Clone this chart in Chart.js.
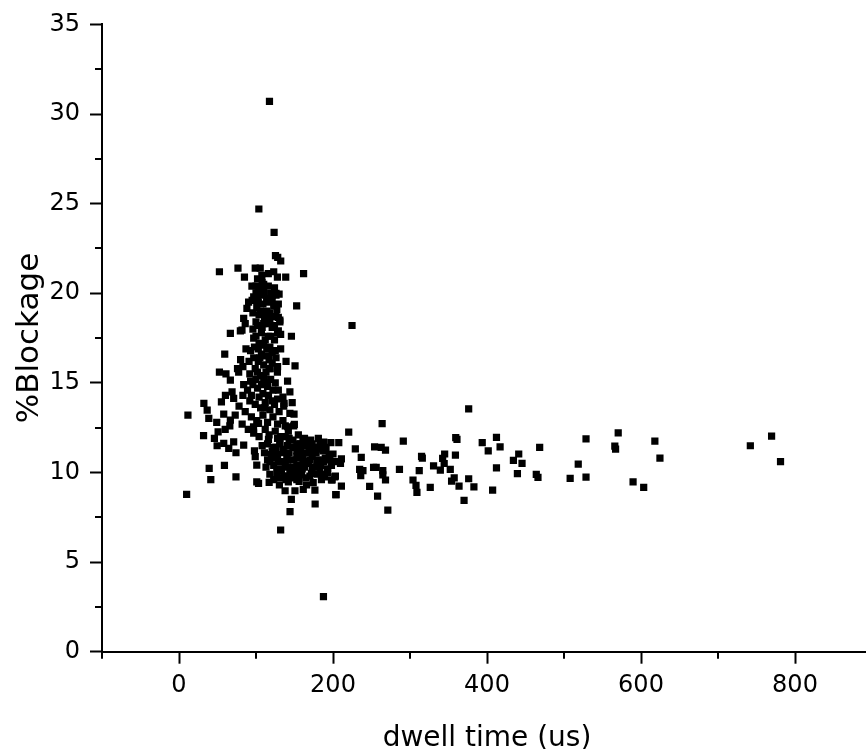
<!DOCTYPE html>
<html>
<head>
<meta charset="utf-8">
<script src="https://cdn.jsdelivr.net/npm/chart.js@4.4.1/dist/chart.umd.min.js"></script>
<style>
  html, body { margin: 0; padding: 0; background: #fff; overflow: hidden; }
  #wrap { width: 880px; height: 749px; }
</style>
</head>
<body>
<div id="wrap"><canvas id="c" width="880" height="749"></canvas></div>
<script>
// ---- Data ----
const dwellTime = [
  117.5,103.7,123.5,125.3,128.2,132.1,52.5,76.6,99,105.5,161.8,85,107.6,127.8,138.6,110,116,124,126,94.7,
  100,103,130,152.8,90.4,95,102,108,114,121,117.5,129,131,88.2,84,86,146,132,66.7,79.7,
  81.8,59.4,150.7,52.5,61,77.5,83,127.8,118.5,66.7,60.3,68.9,71,32.3,36.6,38.7,55.1,58.1,66.7,11.6,
  149.4,136.5,116.2,149.8,141.2,103.3,96.8,116.2,31.9,50.8,39.2,41.3,9.9,59,74,49.5,58.1,64.6,74,84,
  71,99,101,101,224.7,187.6,132,144.2,176.8,145.9,204,210.9,137.8,150.6,161.4,176.5,103.3,117.1,130.4,142,
  165.7,174.3,189.4,202.3,198,159.2,172.1,376.2,263.8,220.4,197.2,207.5,291.3,200,210.9,195.9,202.4,209.7,229,236.7,
  254,262.6,268.2,359.4,361,393.8,412.3,417,401.6,468.4,528.6,570.4,566,567,618,624.6,742,769.6,781.2,518.5,
  508,528.6,589.7,603.5,464,466.2,439.5,434.3,441.2,445.5,412.3,407.3,383,376.2,370.2,363.7,359,357.4,354,352.3,
  345,342.4,339.4,330.6,344.4,326.3,315,316,312,303.9,307.8,309,286.3,271.2,257.9,247.6,268.2,264.7,264.7,252.7,
  256.1,234.6,238.9,236,198.9,203.1,203.6
];
const blockage = [
  30.7,24.7,23.4,22.1,22.0,21.8,21.2,21.4,21.4,21.4,21.1,20.9,21.0,20.9,20.9,20.5,20.4,20.3,20.0,20.4,
  20.4,20.2,19.95,19.3,19.5,19.6,19.8,19.9,19.7,19.6,18.9,18.65,18.5,19.15,18.6,18.3,17.6,17.7,17.76,17.9,
  17.94,16.6,15.95,15.6,15.5,15.6,15.9,15.6,15.8,15.15,14.3,14.5,14.13,13.85,13.48,13.02,13.94,13.26,12.92,13.2,
  13.26,13.85,14.3,12.68,12.55,12.74,12.55,11.85,12.05,12.27,10.23,9.6,8.78,10.4,9.76,11.49,11.62,11.34,11.1,11.53,
  11.71,10.88,10.41,9.48,18.2,3.07,6.79,7.81,8.24,8.5,8.76,9.24,8.98,8.98,9.06,9.02,9.39,9.45,9.3,9.48,
  9.3,9.43,9.76,9.76,9.58,9.86,9.95,13.55,12.72,12.25,11.66,11.66,11.75,11.03,10.76,10.79,10.6,10.5,11.32,10.84,
  11.43,11.4,11.25,11.94,11.85,11.66,11.96,11.43,11.21,11.4,11.88,12.21,11.47,11.3,11.75,10.8,11.49,12.03,10.6,10.47,
  9.67,9.74,9.48,9.17,9.89,9.73,9.93,10.67,11.03,10.51,10.26,9.02,9.2,9.65,8.44,9.24,10.97,9.7,9.52,10.17,
  11.03,10.79,10.13,10.37,10.5,9.17,10.9,10.8,10.1,9.58,9.28,8.89,10.17,7.9,8.68,9.22,9.58,9.86,10.1,10.28,
  10.28,10.17,10.1,9.82,9.58,9.8,8.76
];
// dense core of the spike (dwell time ~80-150 us)
const spikeTime = [
  101,109,114,117,123,127,104,111,116,108,100,96,124,129,119,112,104,98,93,107,
  114,121,126,132,103,110,117,99,92,106,113,119,125,96,89,102,109,115,129,135,
  83,92,99,106,112,118,124,130,136,144,86,94,101,109,115,122,128,135,142,149,
  82,90,97,104,112,117,125,132,138,97,91,87,80,76,84,78,73,66,60,49,46,141,139,144,147,
  102,108,116,123,100,110,119,126,97,103,114,121,129,96,106,112,118,126,131,102,
  110,121,128,100,107,116,124,103,110,118,125,97,105,113,121,128,102,110,117,93,
  100,107,114,122,94,104,111,121,128
];
const spikeBlock = [
  19.2,19.4,19.0,19.5,19.3,19.1,18.8,18.6,18.3,18.1,18.4,18.0,18.2,17.9,17.6,17.4,17.2,17.0,16.8,16.6,
  16.9,16.7,16.4,16.9,16.2,16.0,16.3,15.8,15.5,15.4,15.6,15.2,15.0,14.9,14.6,14.7,14.4,14.8,14.6,14.2,
  14.3,14.0,13.8,13.6,13.9,13.5,13.8,13.4,13.7,13.3,13.4,13.1,12.9,13.2,12.8,13.1,12.7,12.9,12.3,12.6,
  12.7,12.4,12.2,12.0,12.4,12.1,12.3,12.0,12.6,17.5,16.2,16.9,16.3,15.8,14.9,13.7,13.2,12.6,12.4,12.8,11.9,15.1,16.2,14.5,13.9,
  20.8,20.6,21.1,21.2,20.0,20.1,20.0,19.9,19.8,19.5,19.6,19.9,19.4,18.9,19.0,18.8,18.6,18.7,18.4,18.2,
  18.3,18.1,17.8,17.6,17.8,17.6,17.4,16.9,17.1,17.0,16.8,16.4,16.4,16.5,16.1,15.9,15.6,15.3,15.8,15.1,
  15.2,14.9,15.0,14.6,14.3,14.2,13.6,14.0,14.1
];
// dense core of the horizontal band (dwell time ~100-200 us)
const bandTime = [
  128,138,148,155,163,171,181,188,108,115,123,131,141,151,158,166,175,183,191,
  98,111,121,128,135,143,153,161,169,178,187,195,115,125,133,140,149,156,164,173,181,190,
  113,123,130,138,146,153,160,168,176,184,193,118,127,136,144,151,158,170,183,188,
  123,131,139,148,156,185,
  131,143,153,161,173,136,148,158,165,173,183,129,141,153,161,170,179,188,198,133,
  141,150,163,173,180,193,142,153,165,191,126,118,120
];
const bandBlock = [
  11.9,12.0,11.8,12.1,11.9,11.8,11.9,11.7,11.5,11.6,11.4,11.6,11.5,11.4,11.6,11.5,11.4,11.6,11.4,
  11.2,11.1,11.2,11.0,11.3,11.1,11.2,11.0,11.3,11.1,11.2,11.0,10.7,10.8,10.6,10.9,10.7,10.8,10.6,10.9,10.7,10.8,
  10.3,10.4,10.2,10.5,10.3,10.4,10.2,10.5,10.3,10.4,10.2,9.9,10.0,9.8,10.1,9.9,10.0,9.8,10.0,9.9,
  9.6,9.7,9.6,9.7,9.5,9.6,
  11.7,11.9,11.6,11.8,11.6,11.1,11.4,11.3,11.1,11.2,11.3,10.6,10.7,10.9,10.5,10.7,10.5,10.6,10.4,10.1,
  10.3,10.0,10.3,10.1,9.9,10.0,9.8,9.6,9.7,10.7,11.4,10.6,11.0
];
const xMajorTicks = [0, 200, 400, 600, 800];
const yMajorTicks = [0, 5, 10, 15, 20, 25, 30, 35];

const allX = dwellTime.concat(spikeTime, bandTime);
const allY = blockage.concat(spikeBlock, bandBlock);
const points = allX.map((x, i) => ({ x: x, y: allY[i] }));

const FONT = 'DejaVu Sans';
const isMajorX = v => xMajorTicks.includes(v);
const isMajorY = v => yMajorTicks.includes(v);

const minorTicks = {
  id: 'minorTicks',
  afterDraw(chart) {
    const ctx = chart.ctx;
    const xs = chart.scales.x, ys = chart.scales.y;
    const area = chart.chartArea;
    ctx.save();
    ctx.strokeStyle = '#000';
    ctx.lineWidth = 2;
    xs.ticks.forEach(t => {
      if (isMajorX(t.value)) return;
      const px = Math.round(xs.getPixelForValue(t.value));
      ctx.beginPath(); ctx.moveTo(px, area.bottom); ctx.lineTo(px, area.bottom + 7); ctx.stroke();
    });
    ys.ticks.forEach(t => {
      if (isMajorY(t.value)) return;
      const py = Math.round(ys.getPixelForValue(t.value));
      ctx.beginPath(); ctx.moveTo(area.left, py); ctx.lineTo(area.left - 7, py); ctx.stroke();
    });
    ctx.restore();
  }
};

new Chart(document.getElementById('c'), {
  type: 'scatter',
  data: {
    datasets: [{
      data: points,
      pointStyle: 'rect',
      pointRadius: 5.1,
      pointBorderWidth: 0,
      backgroundColor: '#000',
      borderColor: '#000'
    }]
  },
  options: {
    responsive: false,
    animation: false,
    events: [],
    layout: { padding: { top: 24, right: 2, left: 0, bottom: 0 } },
    plugins: { legend: { display: false }, tooltip: { enabled: false } },
    scales: {
      x: {
        type: 'linear',
        min: -100, max: 900,
        border: { display: true, color: '#000', width: 2 },
        grid: {
          drawOnChartArea: false, drawTicks: true, tickLength: 12, tickWidth: 2,
          tickColor: c => (c.tick && isMajorX(c.tick.value)) ? '#000' : 'rgba(0,0,0,0)'
        },
        ticks: {
          stepSize: 100, includeBounds: false, autoSkip: false, maxRotation: 0,
          color: '#000', padding: 8,
          font: { family: FONT, size: 24 },
          callback: v => isMajorX(v) ? String(v) : ''
        },
        title: {
          display: true, text: 'dwell time (us)', color: '#000',
          font: { family: FONT, size: 28, lineHeight: 0.5 }, padding: { top: 23.5, bottom: 3 }
        }
      },
      y: {
        type: 'linear',
        min: 0, max: 35,
        afterFit(s) { s.width = 102; },
        border: { display: true, color: '#000', width: 2 },
        grid: {
          drawOnChartArea: false, drawTicks: true, tickLength: 12, tickWidth: 2,
          tickColor: c => (c.tick && isMajorY(c.tick.value)) ? '#000' : 'rgba(0,0,0,0)'
        },
        ticks: {
          stepSize: 2.5, autoSkip: false, color: '#000', padding: 10,
          font: { family: FONT, size: 24 },
          callback: v => isMajorY(v) ? String(v) : ''
        },
        title: {
          display: true, text: '%Blockage', color: '#000',
          font: { family: FONT, size: 31 }, padding: { top: 11, bottom: 0 }
        }
      }
    }
  },
  plugins: [minorTicks]
});
</script>
</body>
</html>
